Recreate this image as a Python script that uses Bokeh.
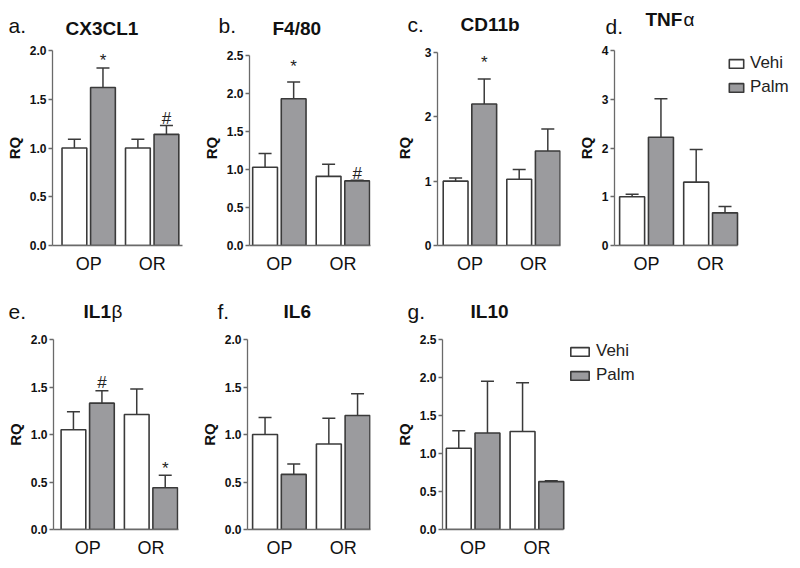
from bokeh.plotting import figure
from bokeh.models import (ColumnDataSource, Range1d, FixedTicker, Label, Legend,
                          LegendItem, Whisker, TeeHead, Spacer)
from bokeh.layouts import row, column
from bokeh.embed import file_html
from bokeh.resources import INLINE
from bokeh.core.properties import value

# ---------------- data ----------------
groups = ["OP", "OR"]
treatments = ["Vehi", "Palm"]

cx3cl1_vehi = [1.00, 1.00]
cx3cl1_vehi_err = [0.09, 0.09]
cx3cl1_palm = [1.62, 1.14]
cx3cl1_palm_err = [0.20, 0.09]

f480_vehi = [1.03, 0.91]
f480_vehi_err = [0.18, 0.16]
f480_palm = [1.93, 0.85]
f480_palm_err = [0.22, 0.01]

cd11b_vehi = [1.00, 1.03]
cd11b_vehi_err = [0.05, 0.15]
cd11b_palm = [2.20, 1.47]
cd11b_palm_err = [0.39, 0.34]

tnfa_vehi = [1.00, 1.30]
tnfa_vehi_err = [0.05, 0.67]
tnfa_palm = [2.22, 0.67]
tnfa_palm_err = [0.79, 0.13]

il1b_vehi = [1.05, 1.21]
il1b_vehi_err = [0.19, 0.27]
il1b_palm = [1.33, 0.44]
il1b_palm_err = [0.13, 0.13]

il6_vehi = [1.00, 0.90]
il6_vehi_err = [0.18, 0.27]
il6_palm = [0.58, 1.20]
il6_palm_err = [0.11, 0.23]

il10_vehi = [1.07, 1.29]
il10_vehi_err = [0.23, 0.64]
il10_palm = [1.27, 0.63]
il10_palm_err = [0.68, 0.01]

ticks_2 = [0, 0.5, 1.0, 1.5, 2.0]
ticks_25 = [0, 0.5, 1.0, 1.5, 2.0, 2.5]
ticks_3 = [0, 1, 2, 3]
ticks_4 = [0, 1, 2, 3, 4]

# significance marks: (group index, symbol, y value of the symbol baseline)
cx3cl1_marks = [(0, "*", 1.90), (1, "#", 1.30)]
f480_marks = [(0, "*", 2.35), (1, "#", 0.95)]
cd11b_marks = [(0, "*", 2.84)]
il1b_marks = [(0, "#", 1.55), (1, "*", 0.64)]

top_letters = ["a.", "b.", "c.", "d."]
top_titles = ["CX3CL1", "F4/80", "CD11b", "TNF"]
bottom_letters = ["e.", "f.", "g."]
bottom_titles = ["IL1", "IL6", "IL10"]

FONT = "Liberation Sans"
EDGE = "#3a3a3a"
AXIS = "#6a6a6a"
GRAY = "#9b9b9e"
TXT = "#111111"


def strip(height, top, letters, titles, letter_pos, title_pos, greek=None):
    """A text-only figure holding the panel letters and titles of one row.
    Positions are page pixels (x, baseline y); `top` is the strip's page y."""
    s = figure(width=792, height=height, output_backend="svg", toolbar_location=None,
               title=None, x_range=Range1d(0, 792), y_range=Range1d(top + height, top),
               min_border=0, x_axis_type=None, y_axis_type=None)
    s.outline_line_color = None
    s.grid.visible = False

    def add(t, x, y, size, style):
        s.add_layout(Label(x=x, y=y, text=t, text_font=FONT, text_font_size=size,
                           text_font_style=style, text_color=TXT,
                           text_baseline="alphabetic"))

    for t, (x, y) in zip(letters, letter_pos):
        add(t, x, y, "21px", "normal")
    for t, (x, y) in zip(titles, title_pos):
        add(t, x, y, "19px", "bold")
    for t, (x, y) in (greek or []):
        add(t, x, y, "19px", "normal")
    return s


def panel(vehi, vehi_err, palm, palm_err, ticks, fmt, marks,
          width, height, bl, br, bt, bb, xr, axis_px, axis_top_px,
          label_standoff=4, legend_pos=None, legend_w=18):
    """axis_px: pixel length of the x-axis span xr; axis_top_px: pixel length
    from the x axis up to the top tick (frame may be taller)."""
    frame_w = width - bl - br
    frame_h = height - bt - bb
    x_end = xr[0] + frame_w * (xr[1] - xr[0]) / axis_px
    y_end = ticks[0] + frame_h * (ticks[-1] - ticks[0]) / axis_top_px
    p = figure(width=width, height=height, output_backend="svg", toolbar_location=None,
               title=None, x_range=Range1d(xr[0], x_end),
               y_range=Range1d(ticks[0], y_end),
               min_border_left=bl, min_border_right=br, min_border_top=bt,
               min_border_bottom=bb)
    p.outline_line_color = None
    p.grid.visible = False
    p.background_fill_color = "white"

    centers = [i + 0.5 for i in range(len(groups))]
    xv = [c - 0.225 for c in centers]
    xp = [c + 0.225 for c in centers]
    rv = p.vbar(x=xv, top=vehi, bottom=0, width=0.39, fill_color="white",
                line_color=EDGE, line_width=1.6)
    rp = p.vbar(x=xp, top=palm, bottom=0, width=0.39, fill_color=GRAY,
                line_color=EDGE, line_width=1.6)

    src = ColumnDataSource(dict(
        x=xv + xp,
        lower=vehi + palm,
        upper=[m + e for m, e in zip(vehi, vehi_err)] + [m + e for m, e in zip(palm, palm_err)],
    ))
    w = Whisker(source=src, base="x", lower="lower", upper="upper", dimension="height",
                line_color=EDGE, line_width=1.5,
                upper_head=TeeHead(size=13, line_color=EDGE, line_width=1.5),
                lower_head=None, level="glyph")
    p.add_layout(w)

    if marks:
        msrc = ColumnDataSource(dict(
            x=[xp[g] for g, s, y in marks],
            y=[y for g, s, y in marks],
            t=[s for g, s, y in marks],
        ))
        p.text(x="x", y="y", text="t", source=msrc, text_align="center",
               text_baseline="alphabetic", text_font=value(FONT),
               text_font_size="17px", text_color="#222222")

    p.yaxis.ticker = FixedTicker(ticks=ticks)
    p.yaxis.bounds = (ticks[0], ticks[-1])
    p.yaxis.major_label_overrides = {t: (fmt % t) for t in ticks}
    p.yaxis.minor_tick_line_color = None
    p.yaxis.major_tick_out = 4
    p.yaxis.major_tick_in = 0
    p.yaxis.axis_line_color = AXIS
    p.yaxis.axis_line_width = 1.3
    p.yaxis.major_tick_line_color = AXIS
    p.yaxis.major_tick_line_width = 1.3
    p.yaxis.major_label_text_font = FONT
    p.yaxis.major_label_text_font_style = "bold"
    p.yaxis.major_label_text_font_size = "12px"
    p.yaxis.major_label_text_color = TXT
    p.yaxis.major_label_standoff = 2
    p.yaxis.axis_label = "RQ"
    p.yaxis.axis_label_text_font = FONT
    p.yaxis.axis_label_text_font_style = "bold"
    p.yaxis.axis_label_text_font_size = "15px"
    p.yaxis.axis_label_text_color = TXT
    p.yaxis.axis_label_standoff = label_standoff

    p.xaxis.ticker = FixedTicker(ticks=centers)
    p.xaxis.bounds = xr
    p.xaxis.major_label_overrides = {c: g for c, g in zip(centers, groups)}
    p.xaxis.minor_tick_line_color = None
    p.xaxis.major_tick_line_color = None
    p.xaxis.major_tick_out = 0
    p.xaxis.axis_line_color = AXIS
    p.xaxis.axis_line_width = 1.3
    p.xaxis.major_label_text_font = FONT
    p.xaxis.major_label_text_font_size = "18px"
    p.xaxis.major_label_text_color = TXT
    p.xaxis.major_label_standoff = 8

    if legend_pos is not None:
        leg = Legend(items=[LegendItem(label=treatments[0], renderers=[rv]),
                            LegendItem(label=treatments[1], renderers=[rp])],
                     location=legend_pos, glyph_width=legend_w, glyph_height=11,
                     label_height=11, label_text_font=FONT, label_text_font_size="17px",
                     label_text_color="#222222", label_standoff=5, spacing=4,
                     padding=0, margin=0, border_line_alpha=0, background_fill_alpha=0)
        p.add_layout(leg)
    return p


# ---- top row: title strip page y 8..41, panels 41..288 (frames 50..245) ----
# figures start at page x 0, 197, 391, 570 ; frame lefts 52, 249, 437, 614
s1 = strip(33, 8, top_letters, top_titles,
           [(8, 25), (218, 25), (407, 24), (605, 26)],
           [(65, 28), (272, 28), (460, 24), (645, 19)],
           greek=[("α", (683, 19))])
pa = panel(cx3cl1_vehi, cx3cl1_vehi_err, cx3cl1_palm, cx3cl1_palm_err, ticks_2, "%.1f",
           cx3cl1_marks, 197, 247, 52, 15, 9, 43, (-0.07, 1.97), 129.5, 195)
pb = panel(f480_vehi, f480_vehi_err, f480_palm, f480_palm_err, ticks_25, "%.1f",
           f480_marks, 194, 247, 52, 21, 9, 43, (0.03, 1.93), 120.7, 190)
pc = panel(cd11b_vehi, cd11b_vehi_err, cd11b_palm, cd11b_palm_err, ticks_3, "%d",
           cd11b_marks, 179, 247, 46, 10, 9, 43, (-0.01, 1.92), 122.7, 193,
           label_standoff=9)
pd = panel(tnfa_vehi, tnfa_vehi_err, tnfa_palm, tnfa_palm_err, ticks_4, "%d",
           None, 222, 247, 44, 0, 9, 43, (0.0, 1.92), 123.0, 195, label_standoff=4,
           legend_pos=(727 - 614, 245 - 97), legend_w=18)

# ---- bottom row: title strip page y 288..330, panels 330..560 (frames 339..531) ----
# figures start at page x 0, 195, 390 ; frame lefts 53, 247, 442
s2 = strip(42, 288, bottom_letters, bottom_titles,
           [(8, 311), (217, 311), (407, 311)],
           [(83, 311), (283, 311), (470, 311)],
           greek=[("β", (111, 311))])
pe = panel(il1b_vehi, il1b_vehi_err, il1b_palm, il1b_palm_err, ticks_2, "%.1f",
           il1b_marks, 195, 230, 53, 17, 9, 29, (-0.04, 1.93), 124.7, 192)
pf = panel(il6_vehi, il6_vehi_err, il6_palm, il6_palm_err, ticks_2, "%.1f",
           None, 195, 230, 52, 20, 9, 29, (0.0, 1.92), 122.5, 192)
pg = panel(il10_vehi, il10_vehi_err, il10_palm, il10_palm_err, ticks_25, "%.1f",
           None, 260, 230, 52, 0, 9, 29, (0.02, 1.92), 121.2, 192,
           legend_pos=(568 - 442, 531 - 387), legend_w=23)

body = column(s1, row(pa, pb, pc, pd), s2, row(pe, pf, pg))
# the page is drawn from its top-left corner: reserve the top margin explicitly
layout = column(Spacer(width=792, height=8), body)

open("out.html", "w").write(file_html(layout, INLINE))
